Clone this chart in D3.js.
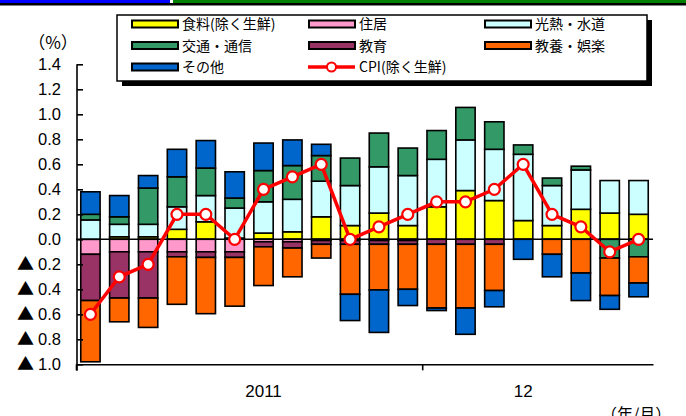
<!DOCTYPE html>
<html>
<head>
<meta charset="utf-8">
<script src="https://cdn.jsdelivr.net/npm/d3@7"></script>
<style>
  body { margin: 0; background: #fff; }
  text { font-family: "Liberation Sans", "Noto Sans CJK JP", sans-serif; }
  .jp { font-family: "Noto Sans CJK JP", sans-serif; }
</style>
</head>
<body>
<div id="chart-area"></div>
<script>
// months (2011/1 - 2012/8)
var months = ["2011/1","2011/2","2011/3","2011/4","2011/5","2011/6","2011/7","2011/8","2011/9","2011/10","2011/11","2011/12",
              "2012/1","2012/2","2012/3","2012/4","2012/5","2012/6","2012/7","2012/8"];

// contributions (% pt)
var food      = [0, 0.02, 0.02, 0.08, 0.14, 0.01, 0.05, 0.06, 0.18, 0.11, 0.21, 0.11, 0.26, 0.39, 0.31, 0.15, 0.11, 0.24, 0.21, 0.2];
var housing   = [-0.12, -0.1, -0.1, -0.1, -0.1, -0.1, -0.02, -0.02, -0.01, -0.01, -0.01, -0.01, 0, 0, 0, 0, 0, 0, 0, 0];
var utilities = [0.155, 0.1, 0.1, 0.18, 0.21, 0.24, 0.25, 0.26, 0.285, 0.32, 0.37, 0.4, 0.38, 0.405, 0.41, 0.53, 0.32, 0.315, 0.26, 0.27];
var transport = [0.045, 0.06, 0.29, 0.24, 0.22, 0.08, 0.25, 0.27, 0.205, 0.22, 0.27, 0.22, 0.23, 0.26, 0.22, 0.075, 0.06, 0.03, -0.15, -0.14];
var education = [-0.37, -0.37, -0.37, -0.04, -0.045, -0.045, -0.04, -0.05, -0.03, -0.03, -0.03, -0.03, -0.04, -0.04, -0.04, 0, 0, 0, 0, 0];
var culture   = [-0.49, -0.19, -0.235, -0.38, -0.45, -0.39, -0.31, -0.23, -0.11, -0.4, -0.365, -0.36, -0.51, -0.51, -0.37, 0, -0.12, -0.27, -0.3, -0.21];
var other     = [0.18, 0.17, 0.1, 0.22, 0.22, 0.21, 0.22, 0.205, 0.09, -0.21, -0.34, -0.13, -0.02, -0.21, -0.13, -0.16, -0.18, -0.22, -0.11, -0.11];
var cpi       = [-0.6, -0.3, -0.2, 0.2, 0.2, 0.0, 0.4, 0.5, 0.6, 0.0, 0.1, 0.2, 0.3, 0.3, 0.4, 0.6, 0.2, 0.1, -0.1, 0.0];

var seriesNames  = ["食料(除く生鮮)", "住居", "光熱・水道", "交通・通信", "教育", "教養・娯楽", "その他"];
var seriesColors = ["#ffff00", "#ff99cc", "#ccffff", "#339966", "#993366", "#ff6600", "#0066cc"];
var seriesValues = [food, housing, utilities, transport, education, culture, other];

var yTicks = [-1.0, -0.8, -0.6, -0.4, -0.2, 0, 0.2, 0.4, 0.6, 0.8, 1.0, 1.2, 1.4];
var yearLabels = [{ text: "2011", at: "2011/7" }, { text: "12", at: "2012/4" }];
var yearTicks = [0, 12];

var width = 686, height = 416;

var svg = d3.select("#chart-area").append("svg")
    .attr("width", width)
    .attr("height", height);

// top strip
svg.append("rect").attr("x", 0).attr("y", 0).attr("width", 170).attr("height", 3).attr("fill", "#0000ff");
svg.append("rect").attr("x", 173).attr("y", 0).attr("width", 513).attr("height", 3).attr("fill", "#008000");
svg.append("rect").attr("x", 0).attr("y", 3).attr("width", 686).attr("height", 2.5).attr("fill", "#000");

// scales
var x = d3.scaleBand().domain(months).range([76, 653]).paddingInner(0.33).paddingOuter(0.165);
var xi = d3.scaleLinear().domain([0, months.length]).range([76, 653]);
var y = d3.scaleLinear().domain([-1, 1.4]).range([364.3, 64.3]);

// table for stacking
var table = months.map(function (m, i) {
    var row = { month: m };
    seriesNames.forEach(function (s, k) { row[s] = seriesValues[k][i]; });
    return row;
});

var stack = d3.stack().keys(seriesNames).offset(d3.stackOffsetDiverging);
var layers = stack(table);

var g = svg.append("g");

g.selectAll("g.layer")
    .data(layers)
    .enter().append("g")
    .attr("class", "layer")
    .attr("fill", function (d, i) { return seriesColors[i]; })
    .selectAll("rect")
    .data(function (d) { return d.filter(function (p) { return p[1] - p[0] !== 0; }); })
    .enter().append("rect")
    .attr("x", function (d) { return x(d.data.month); })
    .attr("width", x.bandwidth())
    .attr("y", function (d) { return y(Math.max(d[0], d[1])); })
    .attr("height", function (d) { return Math.abs(y(d[0]) - y(d[1])); })
    .attr("stroke", "#000")
    .attr("stroke-width", 1.6);

// zero line
g.append("line")
    .attr("x1", 76).attr("x2", 653)
    .attr("y1", y(0)).attr("y2", y(0))
    .attr("stroke", "#000").attr("stroke-width", 1.6);

// y axis
var yAxisCall = d3.axisLeft(y)
    .tickValues(yTicks)
    .tickSize(-6)
    .tickSizeOuter(0)
    .tickPadding(16)
    .tickFormat(function (d) {
        var v = Math.round(d * 10) / 10;
        return v < 0 ? Math.abs(v).toFixed(1) : v.toFixed(1);
    });

var yAxis = svg.append("g")
    .attr("transform", "translate(77,0)")
    .call(yAxisCall);
yAxis.select(".domain").remove();
yAxis.selectAll(".tick line").attr("stroke", "#000").attr("stroke-width", 1.6);
yAxis.selectAll(".tick text")
    .attr("fill", "#000")
    .style("font-size", "16.5px")
    .style("font-family", "'Liberation Sans', 'DejaVu Sans', sans-serif");
// negative values marked with a triangle
yAxis.selectAll(".tick")
    .filter(function (d) { return Math.round(d * 10) < 0; })
    .append("text")
    .attr("x", -43)
    .attr("dy", "0.32em")
    .attr("text-anchor", "end")
    .attr("fill", "#000")
    .style("font-size", "17px")
    .style("font-family", "'Noto Sans CJK JP', sans-serif")
    .text("▲");
yAxis.append("line")
    .attr("x1", 0).attr("x2", 0)
    .attr("y1", y(1.4)).attr("y2", y(-1) + 6.5)
    .attr("stroke", "#000").attr("stroke-width", 1.6);

// x axis
var xAxisCall = d3.axisBottom(xi)
    .tickValues(yearTicks)
    .tickSize(6)
    .tickSizeOuter(0)
    .tickFormat("");
var xAxis = svg.append("g")
    .attr("transform", "translate(0," + y(-1) + ")")
    .call(xAxisCall);
xAxis.select(".domain").attr("stroke", "#000").attr("stroke-width", 1.6);
xAxis.selectAll(".tick line").attr("stroke", "#000").attr("stroke-width", 1.6);

svg.selectAll("text.year")
    .data(yearLabels)
    .enter().append("text")
    .attr("class", "year")
    .attr("x", function (d) { return x(d.at) + x.bandwidth() / 2; })
    .attr("y", 397)
    .attr("text-anchor", "middle")
    .style("font-size", "17px")
    .text(function (d) { return d.text; });

// CPI line
var line = d3.line()
    .x(function (d, i) { return x(months[i]) + x.bandwidth() / 2; })
    .y(function (d) { return y(d); });

svg.append("path")
    .attr("d", line(cpi))
    .attr("fill", "none")
    .attr("stroke", "#ff0000")
    .attr("stroke-width", 3.5);

svg.selectAll("circle.cpi")
    .data(cpi)
    .enter().append("circle")
    .attr("class", "cpi")
    .attr("cx", function (d, i) { return x(months[i]) + x.bandwidth() / 2; })
    .attr("cy", function (d) { return y(d); })
    .attr("r", 5.5)
    .attr("fill", "#fff")
    .attr("stroke", "#ff0000")
    .attr("stroke-width", 2.2);

// unit labels
svg.append("text").attr("class", "jp")
    .attr("x", 53).attr("y", 49)
    .attr("text-anchor", "middle")
    .style("font-size", "17px")
    .text("（%）");
svg.append("text").attr("class", "jp")
    .attr("x", 601).attr("y", 420)
    .style("font-size", "16px")
    .text("（年/月）");

// legend
var legend = svg.append("g");
legend.append("rect")
    .attr("x", 122).attr("y", 20).attr("width", 530).attr("height", 66)
    .attr("fill", "#000");
legend.append("rect")
    .attr("x", 117).attr("y", 15).attr("width", 530).attr("height", 66)
    .attr("fill", "#fff").attr("stroke", "#000").attr("stroke-width", 1.5);

var legendCols = [131, 308, 484];
var legendRows = [24, 45.5, 67];

var legendItems = seriesNames.map(function (s, i) {
    return { name: s, color: seriesColors[i], col: i % 3, row: Math.floor(i / 3) };
});

var items = legend.selectAll("g.item")
    .data(legendItems)
    .enter().append("g")
    .attr("transform", function (d) { return "translate(" + legendCols[d.col] + "," + legendRows[d.row] + ")"; });

items.append("rect")
    .attr("x", 1).attr("y", -3.5).attr("width", 46).attr("height", 7)
    .attr("fill", function (d) { return d.color; })
    .attr("stroke", "#000").attr("stroke-width", 2);
items.append("text")
    .attr("class", "jp")
    .attr("x", 51).attr("y", 5)
    .style("font-size", "14px")
    .text(function (d) { return d.name; });

var cpiItem = legend.append("g")
    .attr("transform", "translate(" + legendCols[1] + "," + legendRows[2] + ")");
cpiItem.append("line")
    .attr("x1", 0).attr("x2", 47).attr("y1", 0).attr("y2", 0)
    .attr("stroke", "#ff0000").attr("stroke-width", 3.5);
cpiItem.append("circle")
    .attr("cx", 23.5).attr("cy", 0).attr("r", 4.5)
    .attr("fill", "#fff").attr("stroke", "#ff0000").attr("stroke-width", 2);
cpiItem.append("text")
    .attr("class", "jp")
    .attr("x", 51).attr("y", 5)
    .style("font-size", "14px")
    .text("CPI(除く生鮮)");
</script>
</body>
</html>
